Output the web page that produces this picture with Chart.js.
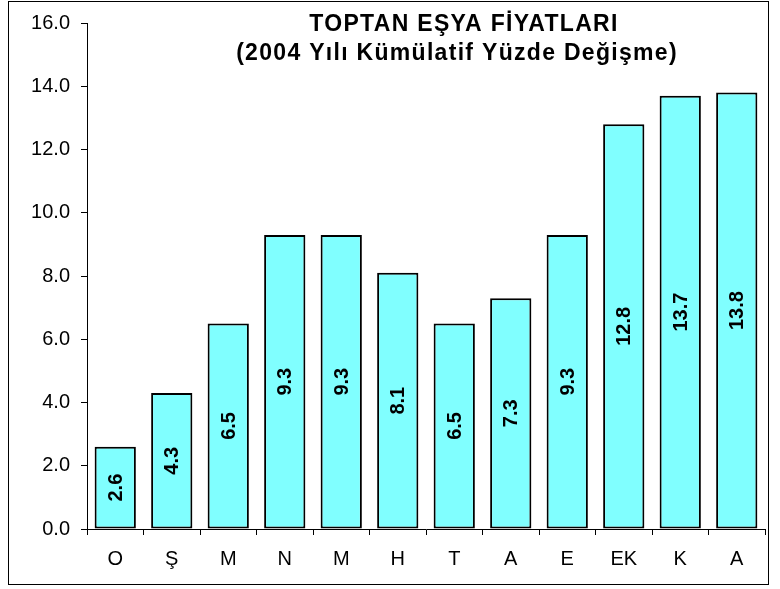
<!DOCTYPE html>
<html>
<head>
<meta charset="utf-8">
<script src="https://cdn.jsdelivr.net/npm/chart.js@4.4.1/dist/chart.umd.min.js"></script>
<style>
html,body{margin:0;padding:0;background:#fff;}
#wrap{width:780px;height:589px;position:relative;}
</style>
</head>
<body>
<div id="wrap"><canvas id="c" width="780" height="589"></canvas></div>
<script>
const categories = ["O", "Ş", "M", "N", "M", "H", "T", "A", "E", "EK", "K", "A"];
const values = [2.6, 4.3, 6.5, 9.3, 9.3, 8.1, 6.5, 7.3, 9.3, 12.8, 13.7, 13.8];
const yTicks = [0, 2, 4, 6, 8, 10, 12, 14, 16];
const titleLines = ["TOPTAN EŞYA FİYATLARI", "(2004 Yılı Kümülatif Yüzde Değişme)"];

const FONT = "'Liberation Sans', Arial, sans-serif";

const framePlugin = {
  id: 'frame',
  afterDraw(chart) {
    const ctx = chart.ctx;
    ctx.save();
    ctx.strokeStyle = '#000';
    ctx.lineWidth = 1;
    ctx.strokeRect(8.5, 1.5, 760, 583);
    ctx.restore();
  }
};

const titlePlugin = {
  id: 'overlayTitle',
  afterDraw(chart) {
    const ctx = chart.ctx;
    ctx.save();
    ctx.fillStyle = '#000';
    ctx.font = "bold 23px " + FONT;
    try { ctx.letterSpacing = '1.3px'; } catch (e) {}
    ctx.textAlign = 'center';
    ctx.textBaseline = 'alphabetic';
    ctx.fillText(titleLines[0], 464, 31);
    ctx.fillText(titleLines[1], 457, 60);
    ctx.restore();
  }
};

const labelPlugin = {
  id: 'barLabels',
  afterDatasetsDraw(chart) {
    const ctx = chart.ctx;
    const meta = chart.getDatasetMeta(0);
    ctx.save();
    ctx.fillStyle = '#000';
    ctx.font = "bold 20px " + FONT;
    ctx.textAlign = 'center';
    ctx.textBaseline = 'middle';
    meta.data.forEach((bar, i) => {
      const cy = (bar.y + bar.base) / 2;
      ctx.save();
      ctx.translate(bar.x, cy);
      ctx.rotate(-Math.PI / 2);
      ctx.fillText(values[i].toFixed(1), 0, 1);
      ctx.restore();
    });
    ctx.restore();
  }
};

new Chart(document.getElementById('c'), {
  type: 'bar',
  data: {
    labels: categories,
    datasets: [{
      data: values,
      backgroundColor: '#80FFFF',
      borderColor: '#000',
      borderWidth: 2,
      borderSkipped: false,
      barPercentage: 0.73,
      categoryPercentage: 1.0
    }]
  },
  options: {
    responsive: false,
    animation: false,
    devicePixelRatio: 1,
    layout: { padding: { left: 0, right: 15, top: 22, bottom: 0 } },
    plugins: {
      legend: { display: false },
      title: { display: false },
      tooltip: { enabled: false }
    },
    scales: {
      x: {
        offset: true,
        grid: { offset: true, drawOnChartArea: false, drawTicks: true, tickLength: 6, color: '#000' },
        border: { display: true, color: '#000', width: 1 },
        ticks: { color: '#000', font: { family: FONT, size: 20 }, padding: 12, maxRotation: 0, autoSkip: false },
        afterFit(scale) { scale.height = 60; }
      },
      y: {
        min: 0,
        max: 16,
        afterBuildTicks(scale) { scale.ticks = yTicks.map(v => ({ value: v })); },
        grid: { drawOnChartArea: false, drawTicks: true, tickLength: 6, color: '#000' },
        border: { display: true, color: '#000', width: 1 },
        ticks: { color: '#000', font: { family: FONT, size: 20 }, padding: 11, callback: v => Number(v).toFixed(1) },
        afterFit(scale) { scale.width = 87; }
      }
    }
  },
  plugins: [framePlugin, titlePlugin, labelPlugin]
});
</script>
</body>
</html>
